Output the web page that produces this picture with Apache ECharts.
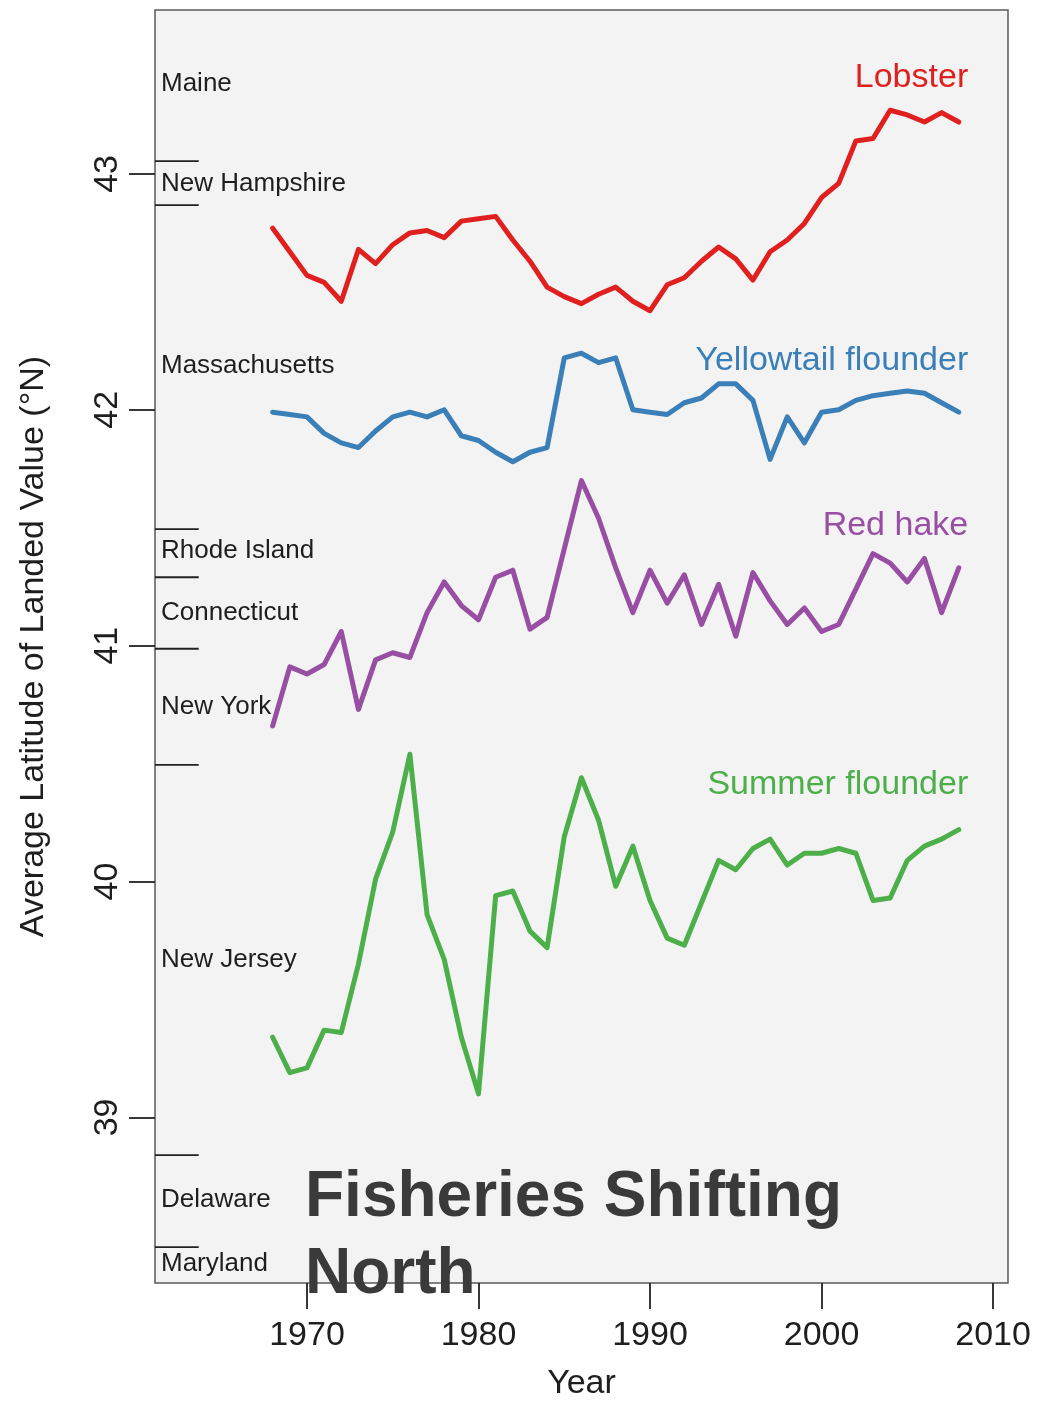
<!DOCTYPE html>
<html>
<head>
<meta charset="utf-8">
<title>Fisheries Shifting North</title>
<script src="https://cdn.jsdelivr.net/npm/echarts@6/dist/echarts.min.js"></script>
<style>
  html, body { margin: 0; padding: 0; background: #ffffff; overflow: hidden; }
  #main { width: 1046px; height: 1406px; }
</style>
</head>
<body>
<div id="main"></div>
<script>
// years 1968 - 2008
var years = [];
for (var y = 1968; y <= 2008; y++) years.push(y);

var lobster = [42.77, 42.67, 42.57, 42.54, 42.46, 42.68, 42.62, 42.70, 42.75, 42.76,
               42.73, 42.80, 42.81, 42.82, 42.72, 42.63, 42.52, 42.48, 42.45, 42.49,
               42.52, 42.46, 42.42, 42.53, 42.56, 42.63, 42.69, 42.64, 42.55, 42.67,
               42.72, 42.79, 42.90, 42.96, 43.14, 43.15, 43.27, 43.25, 43.22, 43.26, 43.22];

var yellowtail = [41.99, 41.98, 41.97, 41.90, 41.86, 41.84, 41.91, 41.97, 41.99, 41.97,
                  42.00, 41.89, 41.87, 41.82, 41.78, 41.82, 41.84, 42.22, 42.24, 42.20,
                  42.22, 42.00, 41.99, 41.98, 42.03, 42.05, 42.11, 42.11, 42.04, 41.79,
                  41.97, 41.86, 41.99, 42.00, 42.04, 42.06, 42.07, 42.08, 42.07, 42.03, 41.99];

var redHake = [40.66, 40.91, 40.88, 40.92, 41.06, 40.73, 40.94, 40.97, 40.95, 41.14,
               41.27, 41.17, 41.11, 41.29, 41.32, 41.07, 41.12, 41.41, 41.70, 41.54,
               41.33, 41.14, 41.32, 41.18, 41.30, 41.09, 41.26, 41.04, 41.31, 41.19,
               41.09, 41.16, 41.06, 41.09, 41.24, 41.39, 41.35, 41.27, 41.37, 41.14, 41.33];

var summerFlounder = [39.34, 39.19, 39.21, 39.37, 39.36, 39.65, 40.01, 40.21, 40.54, 39.86,
                      39.67, 39.34, 39.10, 39.94, 39.96, 39.79, 39.72, 40.19, 40.44, 40.26,
                      39.98, 40.15, 39.92, 39.76, 39.73, 39.91, 40.09, 40.05, 40.14, 40.18,
                      40.07, 40.12, 40.12, 40.14, 40.12, 39.92, 39.93, 40.09, 40.15, 40.18, 40.22];

var seriesNames = ['Lobster', 'Yellowtail flounder', 'Red hake', 'Summer flounder'];
var seriesColors = ['#e0201f', '#3a7fb8', '#984ea3', '#4daf4a'];
// where each series name sits (right end of text, latitude)
var nameLat = [43.41, 42.21, 41.51, 40.41];
var nameYear = 2008.55;

// state bands on the latitude axis
var stateNames = ['Maine', 'New Hampshire', 'Massachusetts', 'Rhode Island', 'Connecticut',
                  'New York', 'New Jersey', 'Delaware', 'Maryland'];
var stateLat = [43.38, 42.96, 42.185, 41.40, 41.14, 40.74, 39.67, 38.65, 38.38];
var borderLat = [43.054, 42.868, 41.494, 41.29, 40.987, 40.495, 38.84, 38.45];

var xTicks = [1970, 1980, 1990, 2000, 2010];
var yTicks = [39, 40, 41, 42, 43];

var xMin = 1961.14, xMax = 2010.87;
var yMin = 38.298, yMax = 43.695;

var allSeries = [lobster, yellowtail, redHake, summerFlounder];

var myChart = echarts.init(document.getElementById('main'));

var series = [];
allSeries.forEach(function (vals, i) {
  series.push({
    name: seriesNames[i],
    type: 'line',
    symbol: 'none',
    data: years.map(function (yr, k) { return [yr, vals[k]]; }),
    lineStyle: { color: seriesColors[i], width: 5, join: 'round', cap: 'round' },
    z: 3
  });
});

// short state boundary marks
borderLat.forEach(function (b) {
  series.push({
    type: 'line',
    symbol: 'none',
    silent: true,
    data: [[xMin, b], [xMin + 2.55, b]],
    lineStyle: { color: '#222', width: 1.8 },
    z: 2
  });
});

// state names
series.push({
  type: 'scatter',
  symbolSize: 0,
  silent: true,
  itemStyle: { opacity: 1 },
  data: stateNames.map(function (n, i) { return [xMin, stateLat[i], n]; }),
  label: {
    show: true,
    position: 'right',
    distance: 6,
    opacity: 1,
    formatter: function (p) { return p.data[2]; },
    color: '#1e1e1e',
    fontSize: 26,
    fontFamily: '"Liberation Sans", Arial, sans-serif'
  }
});

// series names
series.push({
  type: 'scatter',
  symbolSize: 0,
  silent: true,
  itemStyle: { opacity: 1 },
  data: seriesNames.map(function (n, i) {
    return { value: [nameYear, nameLat[i]], name: n, label: { color: seriesColors[i] } };
  }),
  label: {
    show: true,
    position: 'left',
    distance: 0,
    opacity: 1,
    formatter: '{b}',
    fontSize: 34,
    fontFamily: '"Liberation Sans", Arial, sans-serif'
  }
});

var option = {
  backgroundColor: '#ffffff',
  animation: false,
  grid: {
    left: 155, right: 38, top: 10, bottom: 117,
    show: true,
    backgroundColor: '#f3f3f3',
    borderColor: '#5a5a5a',
    borderWidth: 1.5
  },
  xAxis: {
    type: 'value',
    min: xMin, max: xMax,
    name: 'Year',
    nameLocation: 'middle',
    nameGap: 84,
    nameTextStyle: { fontSize: 34, color: '#1e1e1e', fontFamily: '"Liberation Sans", Arial, sans-serif' },
    axisLine: { show: false },
    splitLine: { show: false },
    axisTick: { show: true, customValues: xTicks, length: 26, lineStyle: { color: '#222', width: 1.8 } },
    axisLabel: {
      customValues: xTicks,
      formatter: function (v) { return String(v); },
      margin: 36,
      fontSize: 34,
      color: '#1e1e1e',
      fontFamily: '"Liberation Sans", Arial, sans-serif'
    }
  },
  yAxis: {
    type: 'value',
    min: yMin, max: yMax,
    name: 'Average Latitude of Landed Value (°N)',
    nameLocation: 'middle',
    nameRotate: 90,
    nameGap: 104,
    nameTextStyle: { fontSize: 34, color: '#1e1e1e', fontFamily: '"Liberation Sans", Arial, sans-serif' },
    axisLine: { show: false },
    splitLine: { show: false },
    axisTick: { show: true, customValues: yTicks, length: 26, lineStyle: { color: '#222', width: 1.8 } },
    axisLabel: {
      customValues: yTicks,
      formatter: function (v) { return String(v); },
      rotate: 90,
      margin: 30,
      fontSize: 34,
      color: '#1e1e1e',
      fontFamily: '"Liberation Sans", Arial, sans-serif'
    }
  },
  graphic: [{
    type: 'text',
    left: 305,
    top: 1160,
    z: 10,
    style: {
      text: 'Fisheries Shifting\nNorth',
      fill: '#3a3a3a',
      font: 'bold 64px "Liberation Sans", Arial, sans-serif',
      lineHeight: 77
    }
  }],
  series: series
};

myChart.setOption(option);
window.addEventListener('resize', function () { myChart.resize(); });
</script>
</body>
</html>
